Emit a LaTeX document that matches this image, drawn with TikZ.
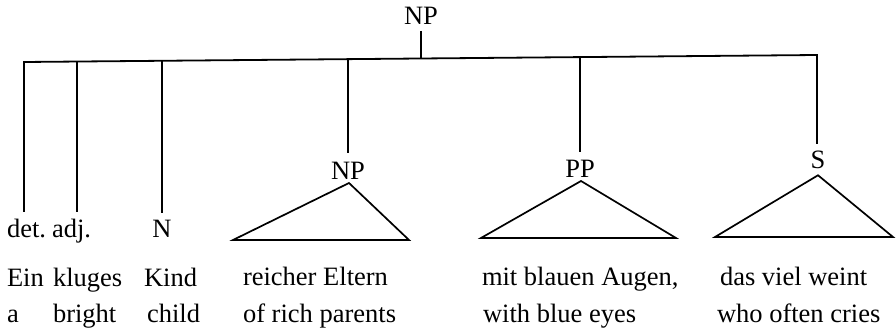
\documentclass[tikz,border=0pt]{standalone}
\usepackage{fontspec}
\setmainfont{Liberation Serif}
\begin{document}
\begin{tikzpicture}[x=1pt,y=-1pt,
  lbl/.style={inner sep=0pt,outer sep=0pt,font=\fontsize{26.5}{30}\selectfont},
  cat/.style={lbl,anchor=base},
  word/.style={lbl,anchor=base west},
  branch/.style={line width=1.8pt},
  roof/.style={line width=1.7pt,line join=miter}]
\useasboundingbox (0,0) rectangle (896,331);

% root and the (slightly sloping) bar joining its daughters
\node[cat] (root) at (421,25) {NP};
\coordinate (bDet) at (24,62);
\coordinate (bAdj) at (77,61.5);
\coordinate (bN) at (162,60.8);
\coordinate (bNP) at (348,59.1);
\coordinate (bRoot) at (421,58.5);
\coordinate (bPP) at (580,57.1);
\coordinate (bS) at (817,55);
\draw[branch,shorten <=6pt] (root.south -| bRoot) -- (bRoot);
\draw[branch,line cap=rect] (bDet) -- (bS);

% word-level daughters
\node[word] (det) at (7,237) {det.};
\node[word] (adj) at (52,237) {adj.};
\node[cat] (n) at (162,237) {N};
\draw[branch,shorten >=7pt] (bDet) -- (bDet |- det.north);
\draw[branch,shorten >=7pt] (bAdj) -- (bAdj |- adj.north);
\draw[branch,shorten >=7pt] (bN) -- (bN |- n.north);

\node[word] (ein) at (7,286) {Ein};
\node[word] (kluges) at (53,286) {kluges};
\node[word] (kind) at (144,286) {Kind};
\node[word] (a) at (7,322) {a};
\node[word] (bright) at (53,322) {bright};
\node[word] (child) at (147,322) {child};

% phrasal daughters with roofs
\node[cat] (np) at (348,179) {NP};
\node[cat] (pp) at (580,178) {PP};
\node[cat] (s) at (818,168) {S};
\draw[branch,shorten >=9pt] (bNP) -- (np.north);
\draw[branch,shorten >=9pt] (bPP) -- (pp.north);
\draw[branch,shorten >=6pt] (bS) -- (bS |- s.north);

\coordinate (npL) at (233,240);
\coordinate (npR) at (409,240);
\coordinate (ppL) at (481,238);
\coordinate (ppR) at (676,238);
\coordinate (sL) at (715,237);
\coordinate (sR) at (893,237);
\draw[roof] ([xshift=1pt,yshift=-4pt]np.south) -- (npL) -- (npR) -- cycle;
\draw[roof] ([xshift=1pt,yshift=-3pt]pp.south) -- (ppL) -- (ppR) -- cycle;
\draw[roof] ([yshift=-7pt]s.south) -- (sL) -- (sR) -- cycle;

\node[word] (reicher) at (243,285) {reicher Eltern};
\node[word] (rich) at (243,322) {of rich parents};
\node[word] (mit) at (482,285) {mit blauen Augen,};
\node[word] (blue) at (483,322) {with blue eyes};
\node[word] (das) at (720,285) {das viel weint};
\node[word] (cries) at (717,322) {who often cries};
\end{tikzpicture}
\end{document}
